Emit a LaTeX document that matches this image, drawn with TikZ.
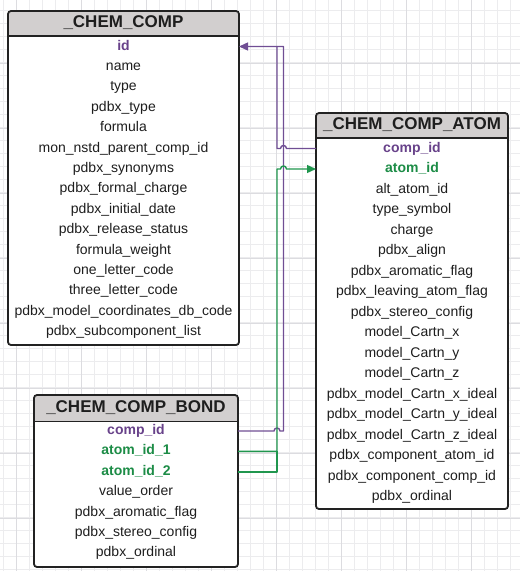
\documentclass[tikz,border=0pt]{standalone}
\usepackage{fontspec}
\setmainfont{Liberation Sans}
\usetikzlibrary{arrows.meta}
\definecolor{ink}{RGB}{30,30,30}
\definecolor{boxline}{RGB}{34,34,34}
\definecolor{headgray}{RGB}{210,207,207}
\definecolor{keypurple}{RGB}{104,66,138}
\definecolor{keygreen}{RGB}{28,140,70}
\definecolor{linepurple}{RGB}{112,78,148}
\definecolor{linegreen}{RGB}{32,150,78}
\definecolor{gridminor}{RGB}{236,236,238}
\definecolor{gridmajor}{RGB}{220,220,224}
\newcommand\keyP[1]{\textbf{\color{keypurple}#1}}
\newcommand\keyG[1]{\textbf{\color{keygreen}#1}}
\tikzset{
  tablebox/.style={draw=boxline, line width=1.8pt, fill=white, rounded corners=3pt,
    inner sep=0pt, outer sep=0pt,
    path picture={
      \fill[headgray] ([yshift=2pt]path picture bounding box.north west) rectangle ([yshift=-#1]path picture bounding box.north east);
      \draw[boxline, line width=1.5pt] ([yshift=-#1]path picture bounding box.north west) -- ([yshift=-#1]path picture bounding box.north east);
    }},
  title/.style={font=\fontsize{17}{20}\selectfont\bfseries, text=ink, inner sep=0pt, anchor=base},
  field/.style={font=\fontsize{14}{16}\selectfont, text=ink, inner sep=0pt, anchor=base,
    text height=10pt, text depth=3pt},
  conn/.style={line width=1.4pt, line join=round},
  tip/.style={-{Triangle[length=9pt,width=8pt]}}
}
\begin{document}
\begin{tikzpicture}[x=1pt,y=-1pt]
\useasboundingbox (0,0) rectangle (520,571);
% background grid
\foreach \x in {3,16,...,519} \draw[gridminor, line width=0.6pt] (\x,0) -- (\x,571);
\foreach \y in {10,23,...,570} \draw[gridminor, line width=0.6pt] (0,\y) -- (520,\y);
\foreach \x in {16,81,...,519} \draw[gridmajor, line width=0.7pt] (\x,0) -- (\x,571);
\foreach \y in {63,128,...,570} \draw[gridmajor, line width=0.7pt] (0,\y) -- (520,\y);

% tables
\node[tablebox=25pt, minimum width=231pt, minimum height=334pt] (cc) at (123.5,178) {};
\node[tablebox=25pt, minimum width=192pt, minimum height=396pt] (atom) at (412,311) {};
\node[tablebox=26.5pt, minimum width=204pt, minimum height=172pt] (bond) at (136,481) {};

\node[title] (cct) at (123.5,27.5) {\_CHEM\_COMP};
\node[title] (atomt) at (412,129.5) {\_CHEM\_COMP\_ATOM};
\node[title] (bondt) at (136,412.5) {\_CHEM\_COMP\_BOND};

\foreach \t [count=\i from 0] in {{\keyP{id}}, name, type, pdbx\_type, formula,
  mon\_nstd\_parent\_comp\_id, pdbx\_synonyms, pdbx\_formal\_charge, pdbx\_initial\_date,
  pdbx\_release\_status, formula\_weight, one\_letter\_code, three\_letter\_code,
  pdbx\_model\_coordinates\_db\_code, pdbx\_subcomponent\_list}
  \node[field] (cc\i) at (123.5,{50+20.4*\i}) {\t};

\foreach \t [count=\i from 0] in {{\keyP{comp\_id}}, {\keyG{atom\_id}}, alt\_atom\_id,
  type\_symbol, charge, pdbx\_align, pdbx\_aromatic\_flag, pdbx\_leaving\_atom\_flag,
  pdbx\_stereo\_config, model\_Cartn\_x, model\_Cartn\_y, model\_Cartn\_z,
  pdbx\_model\_Cartn\_x\_ideal, pdbx\_model\_Cartn\_y\_ideal, pdbx\_model\_Cartn\_z\_ideal,
  pdbx\_component\_atom\_id, pdbx\_component\_comp\_id, pdbx\_ordinal}
  \node[field] (ac\i) at (412,{152+20.5*\i}) {\t};

\foreach \t [count=\i from 0] in {{\keyP{comp\_id}}, {\keyG{atom\_id\_1}}, {\keyG{atom\_id\_2}},
  value\_order, pdbx\_aromatic\_flag, pdbx\_stereo\_config, pdbx\_ordinal}
  \node[field] (bc\i) at (136,{434.5+20.4*\i}) {\t};

% connector lanes
\coordinate (laneL) at (277,0);
\coordinate (laneR) at (283.5,0);
\coordinate (top) at (0,46.5);

% purple: atom.comp_id -> cc.id
\draw[conn, linepurple, tip] (atom.west |- ac0.center) -- ([xshift=3pt]laneR |- ac0.center)
  .. controls ([xshift=3pt,yshift=4pt]laneR |- ac0.center) and ([xshift=-3pt,yshift=4pt]laneR |- ac0.center) .. ([xshift=-3pt]laneR |- ac0.center)
  -- (laneL |- ac0.center) -- (laneL |- top) -- (cc.east |- top);
% purple: bond.comp_id -> cc.id
\draw[conn, linepurple] (bond.east |- bc0.center) -- ([xshift=-3pt]laneL |- bc0.center)
  .. controls ([xshift=-3pt,yshift=4pt]laneL |- bc0.center) and ([xshift=3pt,yshift=4pt]laneL |- bc0.center) .. ([xshift=3pt]laneL |- bc0.center)
  -- (laneR |- bc0.center) -- (laneR |- top) -- (laneL |- top);
% green: bond.atom_id_1 / atom_id_2 -> atom.atom_id
\draw[conn, linegreen, tip] (bond.east |- bc1.center) -- (laneL |- bc1.center) -- (laneL |- ac1.center)
  -- ([xshift=-3pt]laneR |- ac1.center)
  .. controls ([xshift=-3pt,yshift=4pt]laneR |- ac1.center) and ([xshift=3pt,yshift=4pt]laneR |- ac1.center) .. ([xshift=3pt]laneR |- ac1.center)
  -- (atom.west |- ac1.center);
\draw[conn, linegreen] (bond.east |- bc2.center) -- (laneL |- bc2.center) -- (laneL |- bc1.center);
\end{tikzpicture}
\end{document}
